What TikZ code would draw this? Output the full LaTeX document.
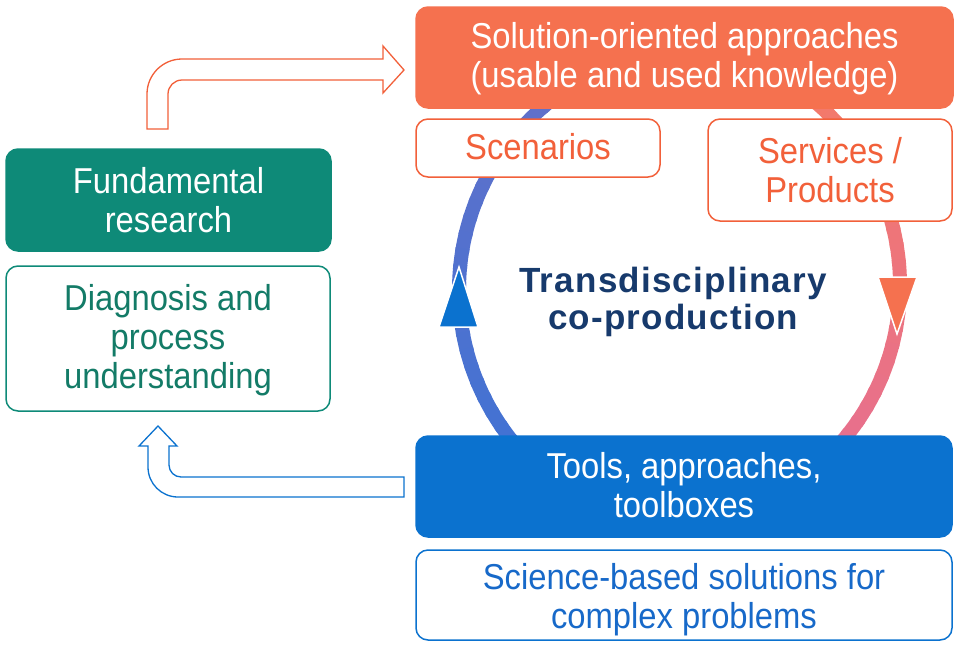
\documentclass[tikz,border=0pt]{standalone}
\usepackage{fontspec}
\setmainfont{Liberation Sans}[FakeStretch=0.91]
\newfontfamily\tdfont{Liberation Sans}[LetterSpace=3.5]
\definecolor{orfill}{HTML}{F5714F}
\definecolor{orline}{HTML}{F2603A}
\definecolor{tealfill}{HTML}{0E8A78}
\definecolor{tealtext}{HTML}{137B67}
\definecolor{bluefill}{HTML}{0B72CF}
\definecolor{bluetext}{HTML}{1769C9}
\definecolor{navy}{HTML}{173A6C}
\definecolor{ringbluetop}{HTML}{6470C9}
\definecolor{ringblue}{HTML}{3B73D5}
\definecolor{ringpinktop}{HTML}{F47A68}
\definecolor{ringpink}{HTML}{E66F90}
\begin{document}
\begin{tikzpicture}[x=1pt,y=-1pt,
  box/.style={rectangle, rounded corners=12pt, line width=1.5pt, align=center, inner sep=0pt,
    font=\fontsize{36}{39}\selectfont},
  txt/.style={align=center, inner sep=0pt, font=\fontsize{36}{39}\selectfont},
  ring/.style={line width=14pt},
  hollow/.style={line width=1.3pt, fill=white, line join=miter}]
\useasboundingbox[fill=white] (0,0) rectangle (958,646);

% ring (left half blue, right half pink)
\foreach \a in {0,...,30}{
  \pgfmathsetmacro{\p}{100*\a/30}
  \draw[ring, draw=ringblue!\p!ringbluetop] plot[domain={242-4*\a}:{242-4*\a-5}, samples=4, smooth] ({700+241*cos(\x)}, {290+241*sin(\x)});
}
\foreach \a in {0,...,26}{
  \pgfmathsetmacro{\p}{100*\a/26}
  \draw[ring, draw=ringpink!\p!ringpinktop] plot[domain={-58+4*\a}:{-58+4*\a+5}, samples=4, smooth] ({660+240*cos(\x)}, {285+240*sin(\x)});
}
\fill[bluefill, draw=white, line width=1.5pt] (459,267) -- (478,327) -- (439,327) -- cycle;
\fill[orfill, draw=white, line width=1.5pt] (878,277) -- (917,277) -- (897,334) -- cycle;

% boxes
\node[box, fill=orfill, draw=orfill, text=white, minimum width=537pt, minimum height=101pt] (sol) at (684.5,57.5) {};
\node[txt, text=white] (solt) at (684.5,58.5) {Solution-oriented approaches\\(usable and used knowledge)};
\node[box, fill=white, draw=orline, minimum width=244pt, minimum height=58pt] (scen) at (538,148) {};
\node[txt, text=orline] (scent) at (538,147) {Scenarios};
\node[box, fill=white, draw=orline, minimum width=244pt, minimum height=102pt] (serv) at (830,170) {};
\node[txt, text=orline] (servt) at (830,170) {Services /\\Products};
\node[box, fill=tealfill, draw=tealfill, minimum width=325pt, minimum height=102pt] (fund) at (168.5,200) {};
\node[txt, text=white] (fundt) at (168.5,200) {Fundamental\\research};
\node[box, fill=white, draw=tealfill, minimum width=324pt, minimum height=145pt] (diag) at (168,338.5) {};
\node[txt, text=tealtext] (diagt) at (168,339.7) {Diagnosis and\\process\\understanding};
\node[box, fill=bluefill, draw=bluefill, minimum width=536pt, minimum height=101pt] (tools) at (684,486.5) {};
\node[txt, text=white] (toolst) at (684,485.6) {Tools, approaches,\\toolboxes};
\node[box, fill=white, draw=bluefill, minimum width=536pt, minimum height=90pt] (sci) at (684,595) {};
\node[txt, text=bluetext] (scit) at (684,600) {Science-based solutions for\\complex problems};

\node[align=center, text=navy, inner sep=0pt, font=\tdfont\bfseries\fontsize{35}{36.5}\selectfont] (td) at (673,301.75) {Transdisciplinary\\co-production};

% hollow arrows
\draw[hollow, draw=orline] (147,129) -- (147,94) .. controls (147,74.7) and (162.7,59) .. (182,59)
  -- (383,59) -- (383,46) -- (404,70) -- (383,93) -- (383,80) -- (182,80)
  .. controls (174.3,80) and (168,86.3) .. (168,94) -- (168,129) -- cycle;
\draw[hollow, draw=bluefill] (404,477) -- (181,477) .. controls (174.4,477) and (169,471.6) .. (169,465)
  -- (169,446) -- (177,446) -- (158,426) -- (139,446) -- (148,446) -- (148,467)
  .. controls (148,483.6) and (161.4,497) .. (178,497) -- (404,497) -- cycle;
\end{tikzpicture}
\end{document}
